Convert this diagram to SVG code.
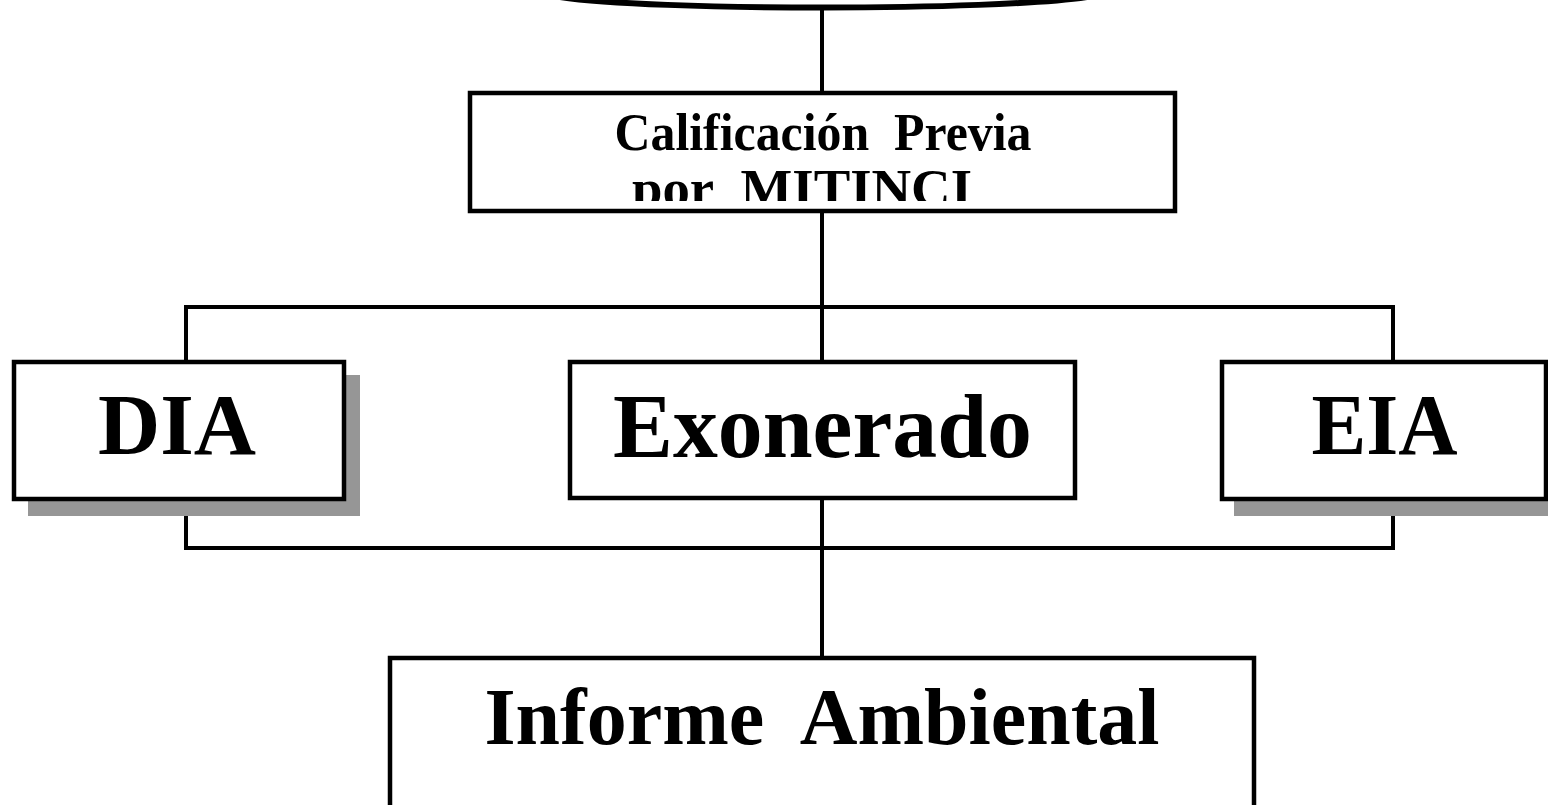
<svg xmlns="http://www.w3.org/2000/svg" width="1548" height="805" viewBox="0 0 1548 805">
<defs>
<style>
.box{fill:#ffffff;stroke:#000000;stroke-width:4.5}
.shadow{fill:#969696;stroke:none}
.conn{fill:none;stroke:#000000;stroke-width:4;stroke-linecap:square;stroke-linejoin:miter}
.t{font-family:"Liberation Serif","Times New Roman",serif;font-weight:bold;fill:#000000;text-anchor:middle;white-space:pre}
</style>
<clipPath id="clipCal"><rect x="472" y="95" width="701" height="106"/></clipPath>
</defs>
<rect width="1548" height="805" fill="#ffffff"/>
<g id="connectors">
<path class="conn" d="M 822 10 L 822 93"/>
<path class="conn" d="M 822 212 L 822 360"/>
<path class="conn" d="M 186 362 L 186 307 L 1393 307 L 1393 362"/>
<path class="conn" d="M 186 499 L 186 548 L 1393 548 L 1393 499"/>
<path class="conn" d="M 822 498 L 822 657"/>
</g>
<g id="top-shape">
<path d="M 560 -3 C 650 11, 995 11, 1087 -3" fill="none" stroke="#000000" stroke-width="6"/>
</g>
<g id="calificacion">
<rect class="box" x="470" y="93" width="705" height="118"/>
<g clip-path="url(#clipCal)">
<text class="t" x="823" y="150" font-size="52" textLength="417" lengthAdjust="spacingAndGlyphs" xml:space="preserve">Calificación  Previa</text>
<text class="t" x="802" y="206" font-size="52" textLength="340" lengthAdjust="spacingAndGlyphs" xml:space="preserve">por  MITINCI</text>
</g>
</g>
<g id="dia">
<rect class="shadow" x="28" y="375" width="332" height="141"/>
<rect class="box" x="14" y="362" width="330" height="137"/>
<text class="t" x="177" y="454" font-size="86" textLength="158" lengthAdjust="spacingAndGlyphs">DIA</text>
</g>
<g id="exonerado">
<rect class="box" x="570" y="362" width="505" height="136"/>
<text class="t" x="822.5" y="457" font-size="90" textLength="419" lengthAdjust="spacingAndGlyphs">Exonerado</text>
</g>
<g id="eia">
<rect class="shadow" x="1234" y="375" width="330" height="141"/>
<rect class="box" x="1222" y="362" width="324" height="137"/>
<text class="t" x="1384.5" y="454" font-size="86" textLength="146" lengthAdjust="spacingAndGlyphs">EIA</text>
</g>
<g id="informe">
<rect class="box" x="390" y="658" width="864" height="170"/>
<text class="t" x="822" y="744" font-size="80" textLength="675" lengthAdjust="spacingAndGlyphs" xml:space="preserve">Informe  Ambiental</text>
</g>
</svg>
